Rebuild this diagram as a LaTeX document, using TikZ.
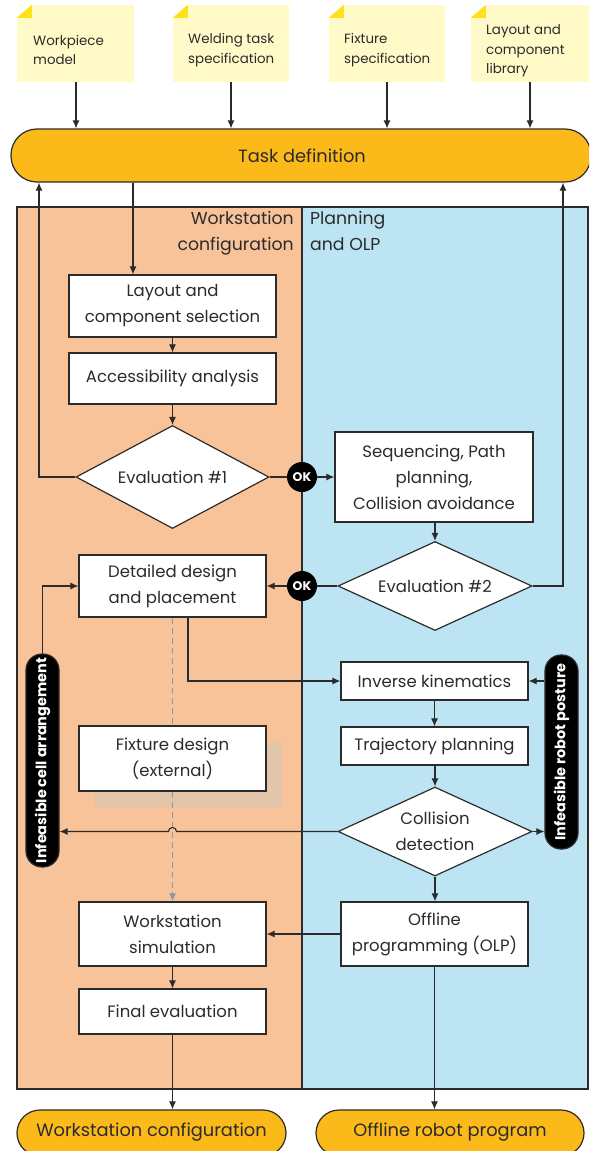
\documentclass[tikz,border=0pt]{standalone}
\usepackage{fontspec}
\setmainfont{Poppins}
\usetikzlibrary{arrows.meta,calc,shapes.geometric}
\definecolor{orng}{HTML}{F9C39A}
\definecolor{blu}{HTML}{BCE4F2}
\definecolor{pillc}{HTML}{FBB91A}
\definecolor{notec}{HTML}{FFFAC8}
\definecolor{foldc}{HTML}{FCE21B}
\definecolor{shadc}{HTML}{E3C5AC}
\definecolor{lc}{HTML}{2B2B2B}
\definecolor{dashc}{HTML}{8E979F}
\newcommand\bxf{\fontsize{16.5}{26}\selectfont}
\newcommand\ntf{\fontsize{13.4}{19.5}\selectfont}
\newcommand\lbf{\fontsize{17.3}{26}\selectfont}
\newcommand\plf{\fontsize{17.8}{20}\selectfont}
\newcommand\vpf{\fontsize{14.4}{16}\selectfont\bfseries}
\tikzset{
  arr/.style={-{Latex[length=8pt,width=7pt]}, line width=1.1pt, draw=lc},
  ln/.style={line width=1.1pt, draw=lc},
  bx/.style={draw=lc, fill=white, line width=1.2pt, inner sep=0pt, align=center, font=\bxf, text=lc},
  dm/.style={diamond, draw=lc, fill=white, line width=1.2pt, inner sep=0pt},
  dtxt/.style={align=center, inner sep=0pt, font=\bxf, text=lc},
  pill/.style={draw=lc, fill=pillc, line width=1.2pt, inner sep=0pt, font=\plf},
  vpill/.style={draw=lc, fill=black, text=white, line width=1.2pt, inner sep=0pt, rounded corners=16pt, minimum width=33pt, font=\vpf},
  okc/.style={circle, fill=black, text=white, inner sep=0pt, minimum size=30pt, font=\fontsize{12.5}{13}\selectfont\bfseries},
  note/.style={fill=notec, inner sep=0pt, minimum height=77pt},
  ntxt/.style={anchor=west, align=left, inner sep=0pt, font=\ntf, text=lc},
  dsh/.style={draw=dashc, line width=1.1pt, dash pattern=on 6pt off 4pt},
}
\begin{document}
\begin{tikzpicture}[x=1pt,y=-1pt]
\useasboundingbox (0,0) rectangle (589,1151);
\clip (0,0) rectangle (589,1151);
% notes
\node[note, minimum width=117pt] (n1) at (75.5,43.5) {};
\node[note, minimum width=116pt] (n2) at (231,43.5) {};
\node[note, minimum width=116pt] (n3) at (387,43.5) {};
\node[note, minimum width=120pt] (n4) at (531,43.5) {};
\foreach \n in {n1,n2,n3,n4}{
  \fill[white] (\n.north west) -- ++(15,0) -- ++(-15,13) -- cycle;
  \fill[foldc] ($(\n.north west)+(0,13)$) -- ++(15,-13) -- ++(0,13) -- cycle;
}
\node[ntxt] (t1) at (33,50) {Workpiece\\model};
\node[ntxt] (t2) at (188,50) {Welding task\\specification};
\node[ntxt] (t3) at (344,50) {Fixture\\specification};
\node[ntxt] (t4) at (486,51) {Layout and\\component\\library};
% task definition
\node[pill, rounded corners=26pt, minimum width=580pt, minimum height=53pt] (task) at (301,155.5) {};
\node[font=\plf, text=lc] (taskt) at (302,155.5) {Task definition};
\foreach \n/\x in {n1/76,n2/231,n3/387,n4/530}{
  \draw[arr] (\n.south -| \x,0) -- (task.north -| \x,0);
}
% regions
\filldraw[fill=orng, draw=lc, line width=1.1pt] (17,207) rectangle (302,1089);
\filldraw[fill=blu, draw=lc, line width=1.1pt] (302,207) rectangle (588,1089);
\node[anchor=north east, align=right, font=\lbf, inner sep=0pt, text=lc] (lbw) at (294,211) {Workstation\\configuration};
\node[anchor=north west, align=left, font=\lbf, inner sep=0pt, text=lc] (lbp) at (310,211) {Planning\\and OLP};
% boxes
\node[bx, minimum width=207pt, minimum height=62pt] (lcs) at (172.5,306) {Layout and\\component selection};
\node[bx, minimum width=207pt, minimum height=51pt] (acc) at (172.5,378.5) {Accessibility analysis};
\node[dm, minimum width=193pt, minimum height=103pt] (ev1) at (172.5,477) {};
\node[dtxt] (ev1t) at (ev1) {Evaluation \#1};
\node[bx, minimum width=198pt, minimum height=90pt] (seq) at (434,477) {Sequencing, Path\\planning,\\Collision avoidance};
\node[dm, minimum width=194pt, minimum height=89pt] (ev2) at (435,586) {};
\node[dtxt] (ev2t) at (ev2) {Evaluation \#2};
\node[bx, minimum width=187pt, minimum height=62pt] (det) at (172.5,586) {Detailed design\\and placement};
\node[bx, minimum width=187pt, minimum height=38pt] (ik) at (434.5,681) {Inverse kinematics};
\node[bx, minimum width=187pt, minimum height=38pt] (tp) at (434.5,746) {Trajectory planning};
\node[dm, minimum width=194pt, minimum height=89pt] (cd) at (435,831.5) {};
\node[dtxt] (cdt) at (cd) {Collision\\detection};
\fill[shadc] (94,742) rectangle (282,807);
\node[bx, minimum width=187pt, minimum height=65pt] (fix) at (172.5,758.5) {Fixture design\\(external)};
\node[bx, minimum width=187pt, minimum height=64pt] (wss) at (172.5,934) {Workstation\\simulation};
\node[bx, minimum width=187pt, minimum height=64pt] (olp) at (434.5,934) {Offline\\programming (OLP)};
\node[bx, minimum width=187pt, minimum height=45pt] (fe) at (172.5,1011.5) {Final evaluation};
\node[vpill, minimum height=213pt] (lp) at (42.5,760.5) {\rotatebox{90}{Infeasible cell arrangement}};
\node[vpill, minimum height=194pt] (rp) at (561.5,752) {\rotatebox{90}{Infeasible robot posture}};
% output pills
\node[pill, rounded corners=23pt, minimum width=269pt, minimum height=46pt] (wc) at (151.5,1133) {};
\node[font=\plf, text=lc] (wct) at (151.5,1132) {Workstation configuration};
\node[pill, rounded corners=23pt, minimum width=268pt, minimum height=46pt] (orp) at (450,1133) {};
\node[font=\plf, text=lc] (orpt) at (450,1132) {Offline robot program};
% connectors
\draw[arr] (task.south -| 133,0) -- (lcs.north -| 133,0);
\draw[arr] (lcs) -- (acc);
\draw[arr] (acc) -- (ev1);
\draw[arr] (ev1.west) -| (task.south -| 39,0);
\node[okc] (ok1) at (302,477) {OK};
\draw[ln] (ev1.east) -- (ok1);
\draw[arr] (ok1) -- (seq.west);
\draw[arr] (seq.south -| ev2.north) -- (ev2.north);
\draw[arr] (ev2.east) -| (task.south -| 563,0);
\node[okc] (ok2) at (302,586) {OK};
\draw[ln] (ev2.west) -- (ok2);
\draw[arr] (ok2) -- (det.east);
\draw[arr] (det.south -| 188,0) |- (ik.west);
\draw[dsh] (det.south) -- (fix.north);
\draw[dsh, -{Latex[length=8pt,width=7pt]}, dashc] (fix.south) -- (wss.north);
\draw[arr] (ik) -- (tp);
\draw[arr] (tp.south -| cd.north) -- (cd.north);
\draw[arr] (cd.south) -- (cd.south |- olp.north);
\draw[arr] (cd.west) -- ($(cd.west -| fix.south)+(4,0)$) arc[start angle=0, end angle=180, radius=4pt] -- (lp.east |- cd.west);
\draw[arr] (cd.east) -- (rp.west |- cd.east);
\draw[arr] (rp.west |- ik.east) -- (ik.east);
\draw[arr] (lp.north) |- (det.west);
\draw[arr] (olp.west) -- (wss.east);
\draw[arr] (wss) -- (fe);
\draw[arr] (fe.south) -- (fe.south |- wc.north);
\draw[arr] (olp.south) -- (olp.south |- orp.north);
\end{tikzpicture}
\end{document}
